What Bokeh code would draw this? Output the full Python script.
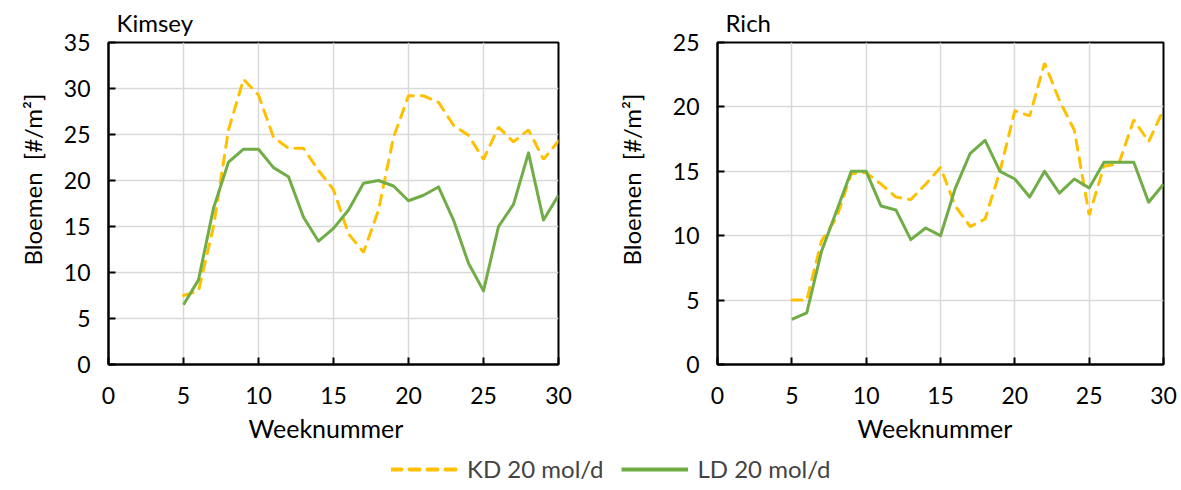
from bokeh.plotting import figure
from bokeh.layouts import column, row
from bokeh.models import Legend, LegendItem, Range1d, FixedTicker, ColumnDataSource, Title
from bokeh.embed import file_html
from bokeh.resources import INLINE

weeks = list(range(5, 31))
kimsey_kd = [7.5, 8.0, 15.0, 25.5, 31.0, 29.3, 24.7, 23.5, 23.5, 21.1, 19.0, 14.2, 12.2, 16.8,
             24.7, 29.2, 29.2, 28.5, 26.0, 24.9, 22.3, 25.8, 24.2, 25.5, 22.3, 24.3]
kimsey_ld = [6.5, 9.2, 17.0, 22.0, 23.4, 23.4, 21.4, 20.4, 16.0, 13.4, 14.8, 16.8, 19.7, 20.0,
             19.4, 17.8, 18.4, 19.3, 15.7, 11.0, 8.0, 15.0, 17.4, 23.0, 15.7, 18.4]
rich_kd = [5.0, 5.0, 9.6, 11.4, 14.8, 14.9, 14.0, 13.0, 12.8, 14.0, 15.3, 12.3, 10.7, 11.3,
           15.0, 19.7, 19.3, 23.4, 20.5, 18.2, 11.6, 15.4, 15.6, 19.0, 17.3, 19.8]
rich_ld = [3.5, 4.0, 8.8, 11.9, 15.0, 15.0, 12.3, 12.0, 9.7, 10.6, 10.0, 13.7, 16.4, 17.4,
           15.0, 14.4, 13.0, 15.0, 13.3, 14.4, 13.7, 15.7, 15.7, 15.7, 12.6, 14.0]

titles = ["Kimsey", "Rich"]
y_max = [35, 25]
x_ticks = [0, 5, 10, 15, 20, 25, 30]
legend_labels = ["KD 20 mol/d", "LD 20 mol/d"]
x_title = "Weeknummer"
y_title = "Bloemen\u00a0 [#/m²]"

FONT = "Lato"
YELLOW = "#FFC000"
GREEN = "#70AD47"
DASH = "10 8"


def make_panel(title, kd, ld, ymax, width, border_left, border_right, border_top, ytitle_gap):
    p = figure(width=width, height=454, output_backend="svg", toolbar_location=None,
               x_range=Range1d(0, 30), y_range=Range1d(0, ymax),
               min_border_left=border_left, min_border_right=border_right,
               min_border_top=border_top, min_border_bottom=90)
    p.title.text = title
    p.title.text_font = FONT
    p.title.text_font_size = "24px"
    p.title.text_font_style = "normal"
    p.title.text_color = "black"
    p.title.align = "left"
    p.title.offset = 8
    p.title.standoff = 11
    src = ColumnDataSource(dict(w=weeks, kd=kd, ld=ld))
    p.line("w", "kd", source=src, line_color=YELLOW, line_width=3, line_dash=DASH, line_cap="round")
    p.line("w", "ld", source=src, line_color=GREEN, line_width=3, line_join="round")
    p.outline_line_color = "black"
    p.outline_line_width = 2
    p.background_fill_color = "white"
    p.border_fill_color = "white"
    for ax in (p.xaxis[0], p.yaxis[0]):
        ax.axis_line_color = "black"
        ax.axis_line_width = 2
        ax.major_tick_in = 7
        ax.major_tick_out = 0
        ax.major_tick_line_width = 2
        ax.minor_tick_line_color = None
        ax.major_label_text_font = FONT
        ax.major_label_text_font_size = "23px"
        ax.major_label_text_color = "black"
    p.xaxis.ticker = FixedTicker(ticks=x_ticks)
    p.yaxis.ticker = FixedTicker(ticks=list(range(0, ymax + 1, 5)))
    p.xaxis.major_label_standoff = 22
    p.yaxis.major_label_standoff = 18
    p.xgrid.ticker = FixedTicker(ticks=x_ticks)
    p.grid.grid_line_color = "#D9D9D9"
    p.grid.grid_line_width = 1.5
    # axis titles, offset from the frame centre like the original
    p.add_layout(Title(text=y_title, align="left", offset=99, standoff=ytitle_gap,
                       text_font=FONT, text_font_size="24px", text_font_style="normal",
                       text_color="black"), "left")
    p.add_layout(Title(text=x_title, align="left", offset=140, standoff=9,
                       text_font=FONT, text_font_size="25px", text_font_style="normal",
                       text_color="black"), "below")
    return p


p1 = make_panel(titles[0], kimsey_kd, kimsey_ld, y_max[0], 590, 108, 32, 42, 27)
p2 = make_panel(titles[1], rich_kd, rich_ld, y_max[1], 591, 123, 18, 39, 48)

# legend strip: real series drawn outside its visible range so only the legend shows
lf = figure(width=1181, height=30, output_backend="svg", toolbar_location=None,
            x_range=Range1d(1000, 1001), y_range=Range1d(1000, 1001),
            min_border=0)
lf.axis.visible = False
lf.grid.visible = False
lf.outline_line_color = None
r1 = lf.line(weeks, kimsey_kd, line_color=YELLOW, line_width=4, line_dash=DASH, line_cap="round")
r2 = lf.line(weeks, kimsey_ld, line_color=GREEN, line_width=4)
leg = Legend(items=[LegendItem(label=legend_labels[0], renderers=[r1]),
                    LegendItem(label=legend_labels[1], renderers=[r2])],
             orientation="horizontal", location=(391, 1),
             label_text_font=FONT, label_text_font_size="24px",
             glyph_width=67, spacing=18, label_standoff=9, padding=0, margin=0,
             border_line_color=None, background_fill_alpha=0)
lf.add_layout(leg, "center")

layout = column(row(p1, p2), lf)
open("out.html", "w").write(file_html(layout, INLINE))
